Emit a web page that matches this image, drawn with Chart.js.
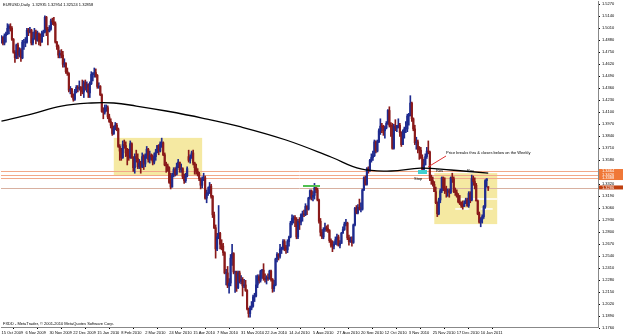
<!DOCTYPE html>
<html><head><meta charset="utf-8">
<script src="https://cdn.jsdelivr.net/npm/chart.js@4/dist/chart.umd.min.js"></script>
<style>html,body{margin:0;padding:0;background:#fff;}#wrap{width:625px;height:334px;position:relative;}</style>
</head><body><div id="wrap"><canvas id="c" width="625" height="334" style="width:625px;height:334px"></canvas></div>
<script>
// ---- data (EURUSD Daily, bar index 0 = 15 Oct 2009) ----
const tickLabels = ["15 Oct 2009","6 Nov 2009","30 Nov 2009","22 Dec 2009","15 Jan 2010","8 Feb 2010","2 Mar 2010","24 Mar 2010","15 Apr 2010","7 May 2010","31 May 2010","22 Jun 2010","14 Jul 2010","5 Aug 2010","27 Aug 2010","20 Sep 2010","12 Oct 2010","3 Nov 2010","25 Nov 2010","17 Dec 2010","10 Jan 2011"];
const tickBars = [0,16,32,48,64,80,96,112,128,144,160,176,192,208,224,240,256,272,288,304,320];
const priceTicks = [1.5270,1.5140,1.5010,1.4880,1.4750,1.4620,1.4490,1.4360,1.4230,1.4100,1.3970,1.3840,1.3710,1.3580,1.3450,1.3320,1.3190,1.3060,1.2930,1.2800,1.2670,1.2540,1.2410,1.2280,1.2150,1.2020,1.1890,1.1760];
const open = [1.4880,1.4910,1.4850,1.4930,1.4950,1.5010,1.5030,1.5010,1.4890,1.4750,1.4690,1.4830,1.4720,1.4770,1.4690,1.4860,1.4860,1.4860,1.4990,1.4970,1.4990,1.4850,1.4900,1.4970,1.4880,1.4950,1.4870,1.4860,1.4960,1.4970,1.5130,1.5000,1.4980,1.5000,1.5090,1.5080,1.5060,1.4860,1.4810,1.4720,1.4740,1.4720,1.4620,1.4630,1.4540,1.4520,1.4340,1.4350,1.4270,1.4240,1.4330,1.4370,1.4360,1.4370,1.4330,1.4320,1.4420,1.4370,1.4400,1.4310,1.4410,1.4510,1.4510,1.4530,1.4500,1.4380,1.4380,1.4290,1.4110,1.4100,1.4140,1.4150,1.4050,1.4000,1.3960,1.3870,1.3930,1.3960,1.3920,1.3730,1.3680,1.3610,1.3750,1.3740,1.3660,1.3630,1.3610,1.3760,1.3610,1.3500,1.3620,1.3600,1.3510,1.3550,1.3510,1.3620,1.3540,1.3630,1.3700,1.3590,1.3630,1.3620,1.3560,1.3620,1.3670,1.3740,1.3680,1.3760,1.3770,1.3640,1.3530,1.3520,1.3500,1.3340,1.3290,1.3420,1.3480,1.3430,1.3510,1.3560,1.3480,1.3490,1.3400,1.3360,1.3410,1.3620,1.3580,1.3610,1.3660,1.3550,1.3500,1.3460,1.3440,1.3380,1.3310,1.3380,1.3390,1.3170,1.3220,1.3230,1.3300,1.3190,1.2990,1.2850,1.2620,1.2750,1.2790,1.2670,1.2650,1.2580,1.2360,1.2360,1.2220,1.2250,1.2520,1.2570,1.2370,1.2370,1.2200,1.2360,1.2270,1.2290,1.2220,1.2230,1.2170,1.1970,1.1920,1.1980,1.2000,1.2100,1.2110,1.2230,1.2320,1.2280,1.2380,1.2390,1.2300,1.2290,1.2310,1.2300,1.2380,1.2290,1.2190,1.2230,1.2510,1.2560,1.2540,1.2620,1.2620,1.2700,1.2640,1.2610,1.2700,1.2750,1.2900,1.2950,1.2960,1.2940,1.2750,1.2920,1.2910,1.2990,1.3000,1.2990,1.3080,1.3050,1.3170,1.3250,1.3180,1.3200,1.3280,1.3260,1.3150,1.2920,1.2800,1.2750,1.2830,1.2850,1.2840,1.2820,1.2710,1.2660,1.2650,1.2670,1.2720,1.2750,1.2660,1.2680,1.2790,1.2830,1.2890,1.2900,1.2740,1.2700,1.2710,1.2690,1.2880,1.3060,1.3010,1.3070,1.3050,1.3050,1.3260,1.3390,1.3320,1.3490,1.3480,1.3580,1.3610,1.3630,1.3780,1.3680,1.3780,1.3900,1.3950,1.3940,1.3900,1.3930,1.3980,1.4120,1.3960,1.3950,1.3710,1.3950,1.3930,1.3950,1.3960,1.3880,1.3750,1.3890,1.3920,1.3920,1.4060,1.4070,1.4200,1.4030,1.3920,1.3770,1.3780,1.3700,1.3690,1.3610,1.3480,1.3530,1.3620,1.3680,1.3670,1.3390,1.3360,1.3320,1.3240,1.3120,1.3000,1.3150,1.3250,1.3390,1.3280,1.3250,1.3240,1.3250,1.3230,1.3390,1.3380,1.3240,1.3230,1.3190,1.3130,1.3110,1.3090,1.3080,1.3110,1.3150,1.3090,1.3220,1.3150,1.3380,1.3350,1.3310,1.3140,1.3000,1.2910,1.2940,1.2970,1.3080,1.3360,1.32935];
const high = [1.4930,1.4920,1.4950,1.4970,1.5060,1.5050,1.5060,1.5030,1.4900,1.4770,1.4840,1.4850,1.4800,1.4790,1.4880,1.4890,1.4910,1.5010,1.5010,1.5020,1.5000,1.4970,1.5010,1.4990,1.4980,1.4960,1.4950,1.4980,1.4990,1.5144,1.5140,1.5020,1.5040,1.5110,1.5120,1.5130,1.5080,1.4870,1.4830,1.4770,1.4780,1.4760,1.4680,1.4640,1.4580,1.4530,1.4380,1.4360,1.4300,1.4350,1.4390,1.4390,1.4440,1.4380,1.4450,1.4440,1.4450,1.4430,1.4410,1.4430,1.4540,1.4530,1.4580,1.4570,1.4510,1.4420,1.4390,1.4300,1.4150,1.4180,1.4180,1.4170,1.4080,1.4030,1.3990,1.3950,1.3990,1.3980,1.3930,1.3750,1.3710,1.3790,1.3800,1.3780,1.3710,1.3700,1.3790,1.3770,1.3620,1.3650,1.3690,1.3650,1.3590,1.3570,1.3660,1.3640,1.3650,1.3730,1.3710,1.3680,1.3650,1.3640,1.3660,1.3700,1.3740,1.3750,1.3780,1.3820,1.3780,1.3660,1.3560,1.3540,1.3510,1.3440,1.3440,1.3500,1.3500,1.3550,1.3590,1.3560,1.3540,1.3500,1.3430,1.3440,1.3510,1.3690,1.3640,1.3680,1.3690,1.3560,1.3540,1.3490,1.3450,1.3390,1.3400,1.3440,1.3410,1.3260,1.3290,1.3340,1.3320,1.3200,1.3020,1.2880,1.2790,1.3090,1.2800,1.2720,1.2680,1.2590,1.2400,1.2430,1.2300,1.2560,1.2670,1.2580,1.2380,1.2380,1.2380,1.2380,1.2330,1.2310,1.2290,1.2280,1.2180,1.1980,1.2000,1.2050,1.2120,1.2140,1.2330,1.2340,1.2340,1.2390,1.2400,1.2460,1.2350,1.2330,1.2350,1.2390,1.2390,1.2300,1.2280,1.2520,1.2580,1.2570,1.2670,1.2640,1.2720,1.2720,1.2660,1.2720,1.2760,1.2920,1.2990,1.2980,1.2980,1.2960,1.2940,1.2960,1.3000,1.3030,1.3040,1.3110,1.3090,1.3180,1.3260,1.3260,1.3240,1.3330,1.3300,1.3280,1.3160,1.2950,1.2830,1.2850,1.2900,1.2870,1.2880,1.2830,1.2730,1.2710,1.2700,1.2750,1.2780,1.2770,1.2710,1.2800,1.2860,1.2910,1.2940,1.2910,1.2770,1.2750,1.2750,1.2890,1.3070,1.3090,1.3100,1.3160,1.3120,1.3270,1.3400,1.3410,1.3500,1.3510,1.3590,1.3650,1.3680,1.3800,1.3790,1.3800,1.3920,1.4030,1.3980,1.3960,1.3950,1.4000,1.4130,1.4160,1.3990,1.3980,1.3970,1.4020,1.3960,1.4030,1.3980,1.3890,1.3910,1.3940,1.4000,1.4080,1.4090,1.4280,1.4210,1.4040,1.3960,1.3830,1.3800,1.3730,1.3720,1.3640,1.3590,1.3650,1.3720,1.3790,1.3680,1.3420,1.3400,1.3350,1.3290,1.3130,1.3170,1.3270,1.3400,1.3400,1.3390,1.3300,1.3270,1.3270,1.3400,1.3440,1.3400,1.3280,1.3260,1.3220,1.3200,1.3130,1.3140,1.3140,1.3170,1.3170,1.3240,1.3240,1.3420,1.3410,1.3390,1.3330,1.3150,1.3020,1.2960,1.2990,1.3090,1.3370,1.3380,1.32954];
const low = [1.4850,1.4830,1.4830,1.4860,1.4940,1.4950,1.4980,1.4880,1.4740,1.4640,1.4680,1.4680,1.4700,1.4650,1.4680,1.4780,1.4810,1.4850,1.4930,1.4960,1.4830,1.4830,1.4890,1.4840,1.4870,1.4830,1.4820,1.4860,1.4920,1.4960,1.4930,1.4830,1.4970,1.4990,1.5050,1.5040,1.4850,1.4780,1.4690,1.4690,1.4690,1.4590,1.4590,1.4520,1.4500,1.4320,1.4300,1.4260,1.4220,1.4230,1.4310,1.4320,1.4340,1.4280,1.4300,1.4260,1.4340,1.4320,1.4260,1.4260,1.4400,1.4440,1.4480,1.4480,1.4360,1.4360,1.4280,1.4100,1.4030,1.4080,1.4110,1.4030,1.3990,1.3930,1.3850,1.3860,1.3910,1.3900,1.3720,1.3580,1.3580,1.3600,1.3710,1.3620,1.3530,1.3580,1.3600,1.3600,1.3460,1.3440,1.3560,1.3490,1.3490,1.3440,1.3500,1.3480,1.3510,1.3600,1.3560,1.3550,1.3580,1.3530,1.3540,1.3580,1.3660,1.3640,1.3670,1.3720,1.3630,1.3520,1.3450,1.3460,1.3330,1.3270,1.3290,1.3400,1.3410,1.3420,1.3500,1.3450,1.3450,1.3380,1.3330,1.3340,1.3400,1.3560,1.3550,1.3600,1.3530,1.3430,1.3430,1.3410,1.3360,1.3270,1.3280,1.3360,1.3160,1.3120,1.3200,1.3220,1.3170,1.2960,1.2840,1.2520,1.2600,1.2730,1.2620,1.2610,1.2550,1.2350,1.2230,1.2200,1.2140,1.2220,1.2440,1.2350,1.2150,1.2160,1.2190,1.2250,1.2240,1.2110,1.2200,1.2160,1.1960,1.1880,1.1880,1.1960,1.1990,1.2050,1.2100,1.2200,1.2250,1.2260,1.2300,1.2280,1.2260,1.2240,1.2280,1.2290,1.2270,1.2150,1.2160,1.2220,1.2480,1.2500,1.2520,1.2570,1.2610,1.2600,1.2570,1.2580,1.2650,1.2740,1.2880,1.2900,1.2860,1.2730,1.2730,1.2830,1.2880,1.2920,1.2970,1.2980,1.2990,1.3040,1.3160,1.3150,1.3140,1.3160,1.3230,1.3140,1.2900,1.2760,1.2730,1.2730,1.2810,1.2810,1.2800,1.2690,1.2640,1.2590,1.2620,1.2670,1.2660,1.2650,1.2630,1.2680,1.2790,1.2820,1.2870,1.2720,1.2660,1.2690,1.2650,1.2680,1.2870,1.3000,1.3000,1.3040,1.3020,1.3040,1.3250,1.3310,1.3310,1.3440,1.3460,1.3560,1.3580,1.3620,1.3660,1.3670,1.3770,1.3860,1.3880,1.3850,1.3820,1.3920,1.3970,1.3940,1.3840,1.3700,1.3700,1.3900,1.3890,1.3930,1.3840,1.3730,1.3750,1.3820,1.3880,1.3890,1.3960,1.4060,1.4000,1.3900,1.3750,1.3700,1.3660,1.3590,1.3600,1.3440,1.3470,1.3530,1.3600,1.3650,1.3360,1.3320,1.3300,1.3240,1.3110,1.2970,1.2990,1.3120,1.3230,1.3250,1.3220,1.3180,1.3190,1.3180,1.3220,1.3340,1.3230,1.3200,1.3180,1.3120,1.3100,1.3070,1.3050,1.3080,1.3110,1.3080,1.3070,1.3120,1.3140,1.3310,1.3270,1.3140,1.2990,1.2900,1.2860,1.2900,1.2950,1.3060,1.3290,1.32524];
const close = [1.4910,1.4850,1.4930,1.4950,1.5010,1.5030,1.5010,1.4890,1.4750,1.4690,1.4830,1.4720,1.4770,1.4690,1.4860,1.4860,1.4860,1.4990,1.4970,1.4990,1.4850,1.4900,1.4970,1.4880,1.4950,1.4870,1.4860,1.4960,1.4970,1.5130,1.5000,1.4980,1.5000,1.5090,1.5080,1.5060,1.4860,1.4810,1.4720,1.4740,1.4720,1.4620,1.4630,1.4540,1.4520,1.4340,1.4350,1.4270,1.4240,1.4330,1.4370,1.4360,1.4370,1.4330,1.4320,1.4420,1.4370,1.4400,1.4310,1.4410,1.4510,1.4510,1.4530,1.4500,1.4380,1.4380,1.4290,1.4110,1.4100,1.4140,1.4150,1.4050,1.4000,1.3960,1.3870,1.3930,1.3960,1.3920,1.3730,1.3680,1.3610,1.3750,1.3740,1.3660,1.3630,1.3610,1.3760,1.3610,1.3500,1.3620,1.3600,1.3510,1.3550,1.3510,1.3620,1.3540,1.3630,1.3700,1.3590,1.3630,1.3620,1.3560,1.3620,1.3670,1.3740,1.3680,1.3760,1.3770,1.3640,1.3530,1.3520,1.3500,1.3340,1.3290,1.3420,1.3480,1.3430,1.3510,1.3560,1.3480,1.3490,1.3400,1.3360,1.3410,1.3490,1.3580,1.3610,1.3660,1.3550,1.3500,1.3460,1.3440,1.3380,1.3310,1.3380,1.3390,1.3170,1.3220,1.3230,1.3300,1.3190,1.2990,1.2850,1.2620,1.2750,1.2790,1.2670,1.2650,1.2580,1.2360,1.2360,1.2220,1.2250,1.2520,1.2570,1.2370,1.2370,1.2200,1.2360,1.2270,1.2290,1.2220,1.2230,1.2170,1.1970,1.1920,1.1980,1.2000,1.2100,1.2110,1.2230,1.2320,1.2280,1.2380,1.2390,1.2300,1.2290,1.2310,1.2300,1.2380,1.2290,1.2190,1.2230,1.2510,1.2560,1.2540,1.2620,1.2620,1.2700,1.2640,1.2610,1.2700,1.2750,1.2900,1.2950,1.2960,1.2940,1.2750,1.2920,1.2910,1.2990,1.3000,1.2990,1.3080,1.3050,1.3170,1.3250,1.3180,1.3200,1.3280,1.3260,1.3150,1.2920,1.2800,1.2750,1.2830,1.2850,1.2840,1.2820,1.2710,1.2660,1.2650,1.2670,1.2720,1.2750,1.2660,1.2680,1.2790,1.2830,1.2890,1.2900,1.2740,1.2700,1.2710,1.2690,1.2880,1.3060,1.3010,1.3070,1.3050,1.3050,1.3260,1.3390,1.3320,1.3490,1.3480,1.3580,1.3610,1.3630,1.3780,1.3680,1.3780,1.3900,1.3950,1.3940,1.3900,1.3930,1.3980,1.4120,1.3960,1.3950,1.3710,1.3950,1.3930,1.3950,1.3960,1.3880,1.3750,1.3890,1.3920,1.3920,1.4060,1.4070,1.4200,1.4030,1.3920,1.3770,1.3780,1.3700,1.3690,1.3610,1.3480,1.3530,1.3620,1.3680,1.3670,1.3390,1.3360,1.3320,1.3240,1.3120,1.3000,1.3150,1.3250,1.3390,1.3280,1.3250,1.3240,1.3250,1.3230,1.3390,1.3380,1.3240,1.3230,1.3190,1.3130,1.3110,1.3090,1.3080,1.3110,1.3150,1.3090,1.3220,1.3150,1.3380,1.3350,1.3310,1.3140,1.3000,1.2910,1.2940,1.2970,1.3080,1.3360,1.3380,1.32858];
// 200-day moving average, read at sample bars
const maBars = [0,20,40,60,75,90,110,134,160,190,220,240,260,280,300,325];
const maValues = [1.4005,1.4081,1.4168,1.4201,1.4201,1.4168,1.4114,1.4038,1.3941,1.3800,1.3616,1.3486,1.3464,1.3496,1.3475,1.3442];
// drawn objects (price levels / bar ranges)
const hLevels = [1.3464,1.3426,1.3388];
const hLevelLabels = ["1.3464","1.3426","1.3388"];
const hLevelGrey = [1.3285];
const lastPrice = 1.32858;
const boxes = [{x0:75,x1:134,p0:1.3823,p1:1.3420},{x0:289,x1:331,p0:1.3441,p1:1.2889}];
const whiteSegs = [{x0:305,x1:331,p:1.3160},{x0:303,x1:312,p:1.3053},{x0:320,x1:328,p:1.3053}];
const header = "EURUSD,Daily  1.32935 1.32954 1.32524 1.32858";
const footer = "FXDD - MetaTrader, \u00a9 2001-2010 MetaQuotes Software Corp.";
const note = "Price breaks thru & closes below on the Weekly";

const BULL = '#1f2b8f', BEAR = '#8a1a1a';
const n = close.length;
const wick = [], body = [], cols = [];
for (let i = 0; i < n; i++) {
  wick.push({x: i, y: [low[i], high[i]]});
  let a = open[i], b = close[i];
  if (Math.abs(a - b) < 0.0002) b = a + 0.0002;
  body.push({x: i, y: [a, b]});
  cols.push(close[i] >= open[i] ? BULL : BEAR);
}
const maData = maBars.map((b, k) => ({x: b, y: maValues[k]}));

const FONT = 'Liberation Sans';
const SMALL = '4px ' + FONT;
const overlay = {
  id: 'overlay',
  beforeDatasetsDraw(chart) {
    const {ctx, chartArea: ca, scales: {x, y}} = chart;
    ctx.save();
    ctx.beginPath(); ctx.rect(ca.left, ca.top, ca.right - ca.left, ca.bottom - ca.top); ctx.clip();
    ctx.fillStyle = '#f5e9a2';
    boxes.forEach(b => {
      const x0 = x.getPixelForValue(b.x0), x1 = x.getPixelForValue(b.x1);
      const y0 = y.getPixelForValue(b.p0), y1 = y.getPixelForValue(b.p1);
      ctx.fillRect(x0, y0, x1 - x0, y1 - y0);
    });
    ctx.strokeStyle = '#f2a888'; ctx.lineWidth = 1;
    hLevels.forEach(p => { const yy = Math.round(y.getPixelForValue(p)) + 0.5; ctx.beginPath(); ctx.moveTo(ca.left, yy); ctx.lineTo(ca.right, yy); ctx.stroke(); });
    ctx.strokeStyle = '#d8b0a0';
    hLevelGrey.forEach(p => { const yy = Math.round(y.getPixelForValue(p)) + 0.5; ctx.beginPath(); ctx.moveTo(ca.left, yy); ctx.lineTo(ca.right, yy); ctx.stroke(); });
    ctx.strokeStyle = '#ffffff'; ctx.lineWidth = 1.5;
    whiteSegs.forEach(s => { const yy = y.getPixelForValue(s.p); ctx.beginPath(); ctx.moveTo(x.getPixelForValue(s.x0), yy); ctx.lineTo(x.getPixelForValue(s.x1), yy); ctx.stroke(); });
    ctx.restore();
  },
  afterDatasetsDraw(chart) {
    const {ctx, chartArea: ca, scales: {y}} = chart;
    ctx.save();
    ctx.fillStyle = '#000'; ctx.font = SMALL; ctx.textBaseline = 'middle';
    ctx.fillText(header, 3, 5);
    ctx.fillText(footer, 3, 324);
    ctx.fillText(note, 446, 153);
    ctx.fillText('Stop', 414, 179);
    ctx.fillText('Res', 436, 171);
    ctx.fillText('Res', 467, 171);
    ctx.strokeStyle = '#e03030'; ctx.lineWidth = 1;
    ctx.beginPath(); ctx.moveTo(446, 156); ctx.lineTo(428, 167); ctx.stroke();
    ctx.fillStyle = '#40d0d0'; ctx.fillRect(418, 170, 9, 4);
    ctx.fillStyle = '#50c050'; ctx.fillRect(303, 185, 17, 2);
    // price-level labels on the axis
    hLevels.forEach((p, k) => {
      const yy = y.getPixelForValue(p);
      ctx.fillStyle = '#f07838'; ctx.fillRect(ca.right + 1, yy - 2, 24, 4);
      ctx.fillStyle = '#fff'; ctx.fillText(hLevelLabels[k], ca.right + 4, yy);
    });
    const yl = y.getPixelForValue(lastPrice);
    ctx.fillStyle = '#c04010'; ctx.fillRect(ca.right + 1, yl - 2, 24, 4);
    ctx.fillStyle = '#fff'; ctx.fillText(lastPrice.toFixed(4), ca.right + 4, yl);
    ctx.restore();
  }
};

function zeroPad(s) { s.paddingTop = 0; s.paddingBottom = 0; s.paddingLeft = 0; s.paddingRight = 0; }

new Chart(document.getElementById('c'), {
  type: 'bar',
  data: {
    datasets: [
      {type: 'line', data: maData, borderColor: '#000', borderWidth: 1.3, pointRadius: 0, tension: 0.4, order: 0},
      {data: wick, backgroundColor: cols, barThickness: 1, grouped: false, order: 2},
      {data: body, backgroundColor: cols, barThickness: 1.5, grouped: false, order: 1}
    ]
  },
  options: {
    responsive: false, animation: false, devicePixelRatio: 1,
    layout: {padding: {left: 1, top: 1, right: 0, bottom: 0}},
    plugins: {legend: {display: false}, tooltip: {enabled: false}},
    scales: {
      x: {type: 'linear', min: -0.3, max: 398.3, offset: false,
        afterBuildTicks: s => { s.ticks = tickBars.map(v => ({value: v})); },
        afterFit: s => { s.height = 7; zeroPad(s); },
        ticks: {callback: (v) => tickLabels[tickBars.indexOf(v)] || '', font: {size: 4, family: FONT}, color: '#000', align: 'start', padding: 1, maxRotation: 0, autoSkip: false},
        grid: {display: true, drawOnChartArea: false, drawTicks: true, tickLength: 2, color: '#000'},
        border: {display: true, color: '#888'}
      },
      y: {position: 'right', min: 1.17742, max: 1.53058,
        afterBuildTicks: s => { s.ticks = priceTicks.map(v => ({value: v})); },
        afterFit: s => { s.width = 27; zeroPad(s); },
        ticks: {callback: v => v.toFixed(4), font: {size: 4, family: FONT}, color: '#000', padding: 2},
        grid: {display: true, drawOnChartArea: false, drawTicks: true, tickLength: 2, color: '#000'},
        border: {display: true, color: '#888'}
      }
    }
  },
  plugins: [overlay]
});
</script></body></html>
